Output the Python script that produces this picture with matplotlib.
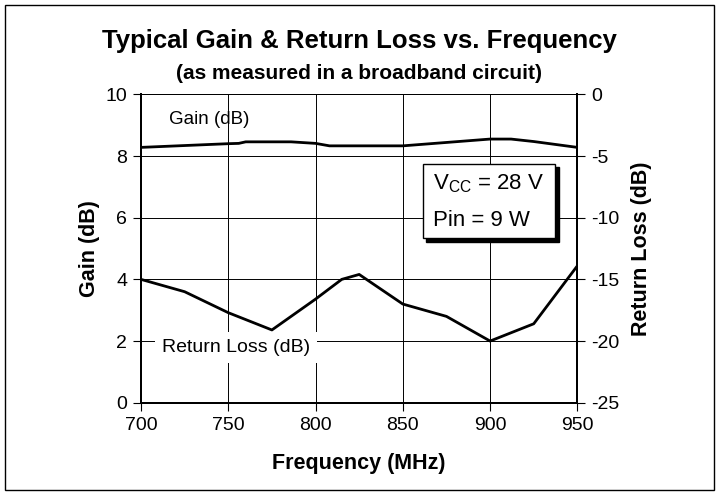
import matplotlib
matplotlib.use('Agg')
import matplotlib.pyplot as plt
from matplotlib.patches import Rectangle

plt.rcParams['font.family'] = ['Liberation Sans', 'DejaVu Sans']
plt.rcParams['axes.unicode_minus'] = False

# data
gain_freq = [700, 750, 756, 760, 786, 800, 808, 850, 900, 912, 925, 950]
gain_db = [8.28, 8.40, 8.41, 8.46, 8.46, 8.41, 8.33, 8.33, 8.55, 8.55, 8.47, 8.28]

rl_freq = [700, 725, 750, 775, 800, 815, 825, 850, 875, 900, 925, 950]
rl_db = [-15.0, -16.0, -17.7, -19.1, -16.6, -15.0, -14.6, -17.0, -18.0, -20.0, -18.6, -13.9]

x_ticks = [700, 750, 800, 850, 900, 950]
gain_ticks = [0, 2, 4, 6, 8, 10]
rl_ticks = [-25, -20, -15, -10, -5, 0]

fig = plt.figure(figsize=(7.19, 4.95), dpi=100)
fig.patches.append(Rectangle((0.007, 0.01), 0.986, 0.98, transform=fig.transFigure,
                             fill=False, ec='k', lw=1.0))

ax = fig.add_axes([0.1961, 0.1864, 0.6069, 0.6230])
ax2 = ax.twinx()

ax.set_xlim(700, 950)
ax.set_ylim(0, 10)
ax2.set_ylim(-25, 0)
ax.set_xticks(x_ticks)
ax.set_yticks(gain_ticks)
ax2.set_yticks(rl_ticks)

ax.grid(True, color='k', lw=0.7)
ax.set_axisbelow(True)
for a in (ax, ax2):
    for s in a.spines.values():
        s.set_linewidth(1.4)
    a.spines['top'].set_linewidth(0.7)
    a.tick_params(direction='out', length=6, width=0.8, labelsize=14, pad=4)

ax.plot(gain_freq, gain_db, color='k', lw=2.0, zorder=3)
ax2.plot(rl_freq, rl_db, color='k', lw=2.0, zorder=3)

ax.text(716, 9.2, 'Gain (dB)', fontsize=13.5, va='center', ha='left')
ax.text(712, 1.8, 'Return Loss (dB)', fontsize=14, va='center', ha='left', zorder=4,
        bbox=dict(fc='white', ec='none', pad=5))

ax.set_xlabel('Frequency (MHz)', fontsize=15.5, fontweight='bold', labelpad=14)
ax.set_ylabel('Gain (dB)', fontsize=15.5, fontweight='bold', labelpad=4)
ax2.set_ylabel('Return Loss (dB)', fontsize=15.5, fontweight='bold', labelpad=8)

fig.text(0.5, 0.917, 'Typical Gain & Return Loss vs. Frequency', fontsize=18.5,
         fontweight='bold', ha='center', va='center')
fig.text(0.5, 0.851, '(as measured in a broadband circuit)', fontsize=15,
         fontweight='bold', ha='center', va='center')

# condition box with drop shadow
bx0, by0, bw, bh = 0.588, 0.519, 0.184, 0.150
fig.patches.append(Rectangle((bx0 + 0.005, by0 - 0.007), bw, bh, transform=fig.transFigure,
                             fc='k', ec='k', zorder=5))
fig.patches.append(Rectangle((bx0, by0), bw, bh, transform=fig.transFigure,
                             fc='white', ec='k', lw=1.0, zorder=6))
fig.text(bx0 + 0.014, by0 + 0.110, r'V$_{\mathregular{CC}}$ = 28 V', fontsize=16,
         va='center', ha='left', zorder=7)
fig.text(bx0 + 0.014, by0 + 0.036, 'Pin = 9 W', fontsize=16,
         va='center', ha='left', zorder=7)

fig.savefig('out.png', dpi=100)
